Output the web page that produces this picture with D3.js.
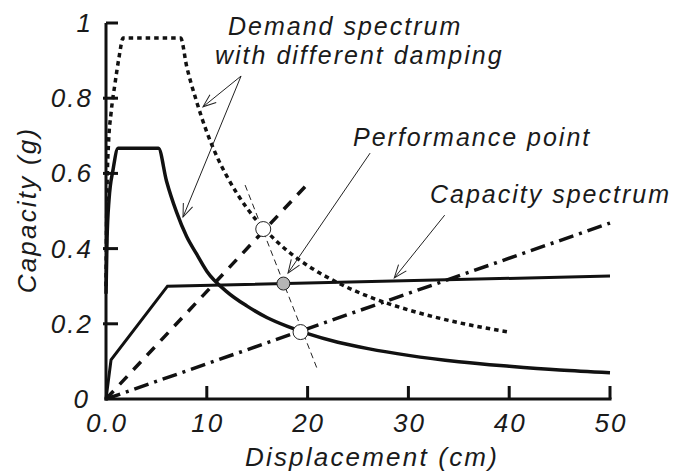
<!DOCTYPE html>
<html>
<head>
<meta charset="utf-8">
<script src="https://cdn.jsdelivr.net/npm/d3@7"></script>
<style>
  html, body { margin: 0; padding: 0; background: #fff; }
  svg { display: block; }
  text { font-family: "Liberation Sans", Arial, sans-serif; font-style: italic; fill: #1a1a1a; }
</style>
</head>
<body>
<svg id="chart" width="681" height="476"></svg>
<script>
// Capacity spectrum (bilinear pushover curve in ADRS format)
const capacityDisp = [0, 0.5, 6.1, 50];
const capacityAcc  = [0, 0.104, 0.30, 0.327];

// Demand spectrum, higher damping (solid)
const demandHiDisp = [0, 0.1, 0.3, 0.7, 1.2, 5.2, 6, 7, 8, 9, 10, 12, 14, 16, 18, 20, 23, 26, 30, 35, 40, 45, 50];
const demandHiAcc  = [0.28, 0.42, 0.53, 0.61, 0.667, 0.667, 0.58, 0.497, 0.432, 0.385, 0.34, 0.285, 0.247, 0.216, 0.193, 0.174, 0.151, 0.134, 0.116, 0.099, 0.087, 0.077, 0.07];

// Demand spectrum, lower damping (dotted)
const demandLoDisp = [0, 0.05, 0.12, 0.25, 0.5, 0.9, 1.3, 1.7, 7.4, 8, 9, 10, 11, 12, 14, 16, 18, 20, 23, 26, 30, 35, 40];
const demandLoAcc  = [0.30, 0.45, 0.58, 0.68, 0.76, 0.84, 0.91, 0.96, 0.96, 0.885, 0.79, 0.71, 0.645, 0.592, 0.507, 0.444, 0.394, 0.355, 0.309, 0.273, 0.237, 0.203, 0.178];

// Secant (effective period) radial lines from the origin
const secantSteepDisp = [0, 20];
const secantSteepAcc  = [0, 0.572];
const secantFlatDisp  = [0, 50];
const secantFlatAcc   = [0, 0.468];

// Trial intersections and the converged performance point
const trialDisp = [15.6, 19.3];
const trialAcc  = [0.452, 0.178];
const perfDisp  = [17.6];
const perfAcc   = [0.307];

// Guide line through the trial points
const guideDisp = [13.8, 21.0];
const guideAcc  = [0.569, 0.077];

// Axis ticks
const xTicks = [0, 10, 20, 30, 40, 50];
const xTickLabels = ["0.0", "10", "20", "30", "40", "50"];
const yTicks = [0, 0.2, 0.4, 0.6, 0.8, 1];
const yTickLabels = ["0", "0.2", "0.4", "0.6", "0.8", "1"];

// Annotation arrows: [fromDisp, fromAcc, toDisp, toAcc]
const arrowDemandLo = [13.4, 0.859, 9.62, 0.777];
const arrowDemandHi = [13.4, 0.859, 7.64, 0.484];
const arrowPerf     = [26.2, 0.654, 18.06, 0.335];
const arrowCapacity = [33.6, 0.489, 28.6, 0.322];

const svg = d3.select("#chart");
const x = d3.scaleLinear().domain([0, 50]).range([106, 610]);
const y = d3.scaleLinear().domain([0, 1]).range([399, 23]);

const zip = (a, b) => a.map((v, i) => [v, b[i]]);
const line = d3.line().x(d => x(d[0])).y(d => y(d[1]));
const smooth = d3.line().x(d => x(d[0])).y(d => y(d[1])).curve(d3.curveMonotoneX);

svg.append("defs").append("marker")
  .attr("id", "head")
  .attr("viewBox", "-14 -7 16 14")
  .attr("refX", 0).attr("refY", 0)
  .attr("markerWidth", 16).attr("markerHeight", 14)
  .attr("markerUnits", "userSpaceOnUse")
  .attr("orient", "auto")
  .append("path")
  .attr("d", "M-13,-5 L0,0 L-13,5")
  .attr("fill", "none").attr("stroke", "#222").attr("stroke-width", 1);

const g = svg.append("g");

// Radial secant lines
g.append("path").datum(zip(secantFlatDisp, secantFlatAcc)).attr("d", line)
  .attr("fill", "none").attr("stroke", "#111").attr("stroke-width", 3.5)
  .attr("stroke-dasharray", "15,6,3,6");
g.append("path").datum(zip(secantSteepDisp, secantSteepAcc)).attr("d", line)
  .attr("fill", "none").attr("stroke", "#111").attr("stroke-width", 3.5)
  .attr("stroke-dasharray", "11,9");

// Demand spectra
g.append("path").datum(zip(demandLoDisp, demandLoAcc)).attr("d", smooth)
  .attr("fill", "none").attr("stroke", "#111").attr("stroke-width", 3.5)
  .attr("stroke-dasharray", "4.5,4");
g.append("path").datum(zip(demandHiDisp, demandHiAcc)).attr("d", smooth)
  .attr("fill", "none").attr("stroke", "#111").attr("stroke-width", 3.5);

// Capacity spectrum
g.append("path").datum(zip(capacityDisp, capacityAcc)).attr("d", line)
  .attr("fill", "none").attr("stroke", "#111").attr("stroke-width", 3)
  .attr("stroke-linejoin", "miter");

// Guide line
g.append("path").datum(zip(guideDisp, guideAcc)).attr("d", line)
  .attr("fill", "none").attr("stroke", "#222").attr("stroke-width", 1)
  .attr("stroke-dasharray", "6,4");

// Trial points and performance point
g.selectAll("circle.trial").data(zip(trialDisp, trialAcc)).enter().append("circle")
  .attr("class", "trial")
  .attr("cx", d => x(d[0])).attr("cy", d => y(d[1])).attr("r", 7.5)
  .attr("fill", "#fff").attr("stroke", "#222").attr("stroke-width", 1);
g.selectAll("circle.perf").data(zip(perfDisp, perfAcc)).enter().append("circle")
  .attr("class", "perf")
  .attr("cx", d => x(d[0])).attr("cy", d => y(d[1])).attr("r", 6.5)
  .attr("fill", "#b5b5b5").attr("stroke", "#222").attr("stroke-width", 1);

// Axes
const axes = svg.append("g");
axes.append("line").attr("x1", x(0)).attr("x2", x(0)).attr("y1", y(1)).attr("y2", y(0) + 1.5)
  .attr("stroke", "#111").attr("stroke-width", 3);
axes.append("line").attr("x1", x(0) - 1.5).attr("x2", x(50) + 1.5).attr("y1", y(0)).attr("y2", y(0))
  .attr("stroke", "#111").attr("stroke-width", 3);
axes.selectAll("line.yt").data(yTicks.filter(v => v > 0)).enter().append("line")
  .attr("class", "yt")
  .attr("x1", v => v === 1 ? x(0) : x(0) - 3).attr("x2", x(0) + 12)
  .attr("y1", v => y(v)).attr("y2", v => y(v))
  .attr("stroke", "#111").attr("stroke-width", 3);
axes.selectAll("line.xt").data(xTicks.filter(v => v > 0)).enter().append("line")
  .attr("class", "xt")
  .attr("x1", v => x(v)).attr("x2", v => x(v))
  .attr("y1", y(0)).attr("y2", y(0) - 13)
  .attr("stroke", "#111").attr("stroke-width", 3);

const tickFont = 26, spacing = 2;
axes.selectAll("text.yl").data(yTicks).enter().append("text")
  .attr("class", "yl")
  .attr("x", v => v === 0 ? 90 : 93).attr("y", v => y(v) + 9)
  .attr("text-anchor", "end")
  .style("font-size", tickFont + "px").style("letter-spacing", spacing + "px")
  .text((v, i) => yTickLabels[i]);
axes.selectAll("text.xl").data(xTicks).enter().append("text")
  .attr("class", "xl")
  .attr("x", v => x(v) + 1).attr("y", 432)
  .attr("text-anchor", "middle")
  .style("font-size", tickFont + "px").style("letter-spacing", spacing + "px")
  .text((v, i) => xTickLabels[i]);

// Axis titles
svg.append("text").attr("x", 372).attr("y", 466).attr("text-anchor", "middle")
  .style("font-size", "26px").style("letter-spacing", "2.2px")
  .text("Displacement (cm)");
svg.append("text").attr("transform", "translate(36,210) rotate(-90)").attr("text-anchor", "middle")
  .style("font-size", "26px").style("letter-spacing", "2.2px")
  .text("Capacity (g)");

// Annotation labels
const notes = [
  ["Demand spectrum", 228, 35],
  ["with different damping", 215, 64],
  ["Performance point", 353, 146],
  ["Capacity spectrum", 430, 203]
];
svg.selectAll("text.note").data(notes).enter().append("text")
  .attr("class", "note")
  .attr("x", d => d[1]).attr("y", d => d[2])
  .style("font-size", "25px").style("letter-spacing", "2px")
  .text(d => d[0]);

// Annotation arrows
svg.selectAll("line.arrow").data([arrowDemandLo, arrowDemandHi, arrowPerf, arrowCapacity])
  .enter().append("line")
  .attr("class", "arrow")
  .attr("x1", d => x(d[0])).attr("y1", d => y(d[1]))
  .attr("x2", d => x(d[2])).attr("y2", d => y(d[3]))
  .attr("stroke", "#222").attr("stroke-width", 1)
  .attr("marker-end", "url(#head)");
</script>
</body>
</html>
